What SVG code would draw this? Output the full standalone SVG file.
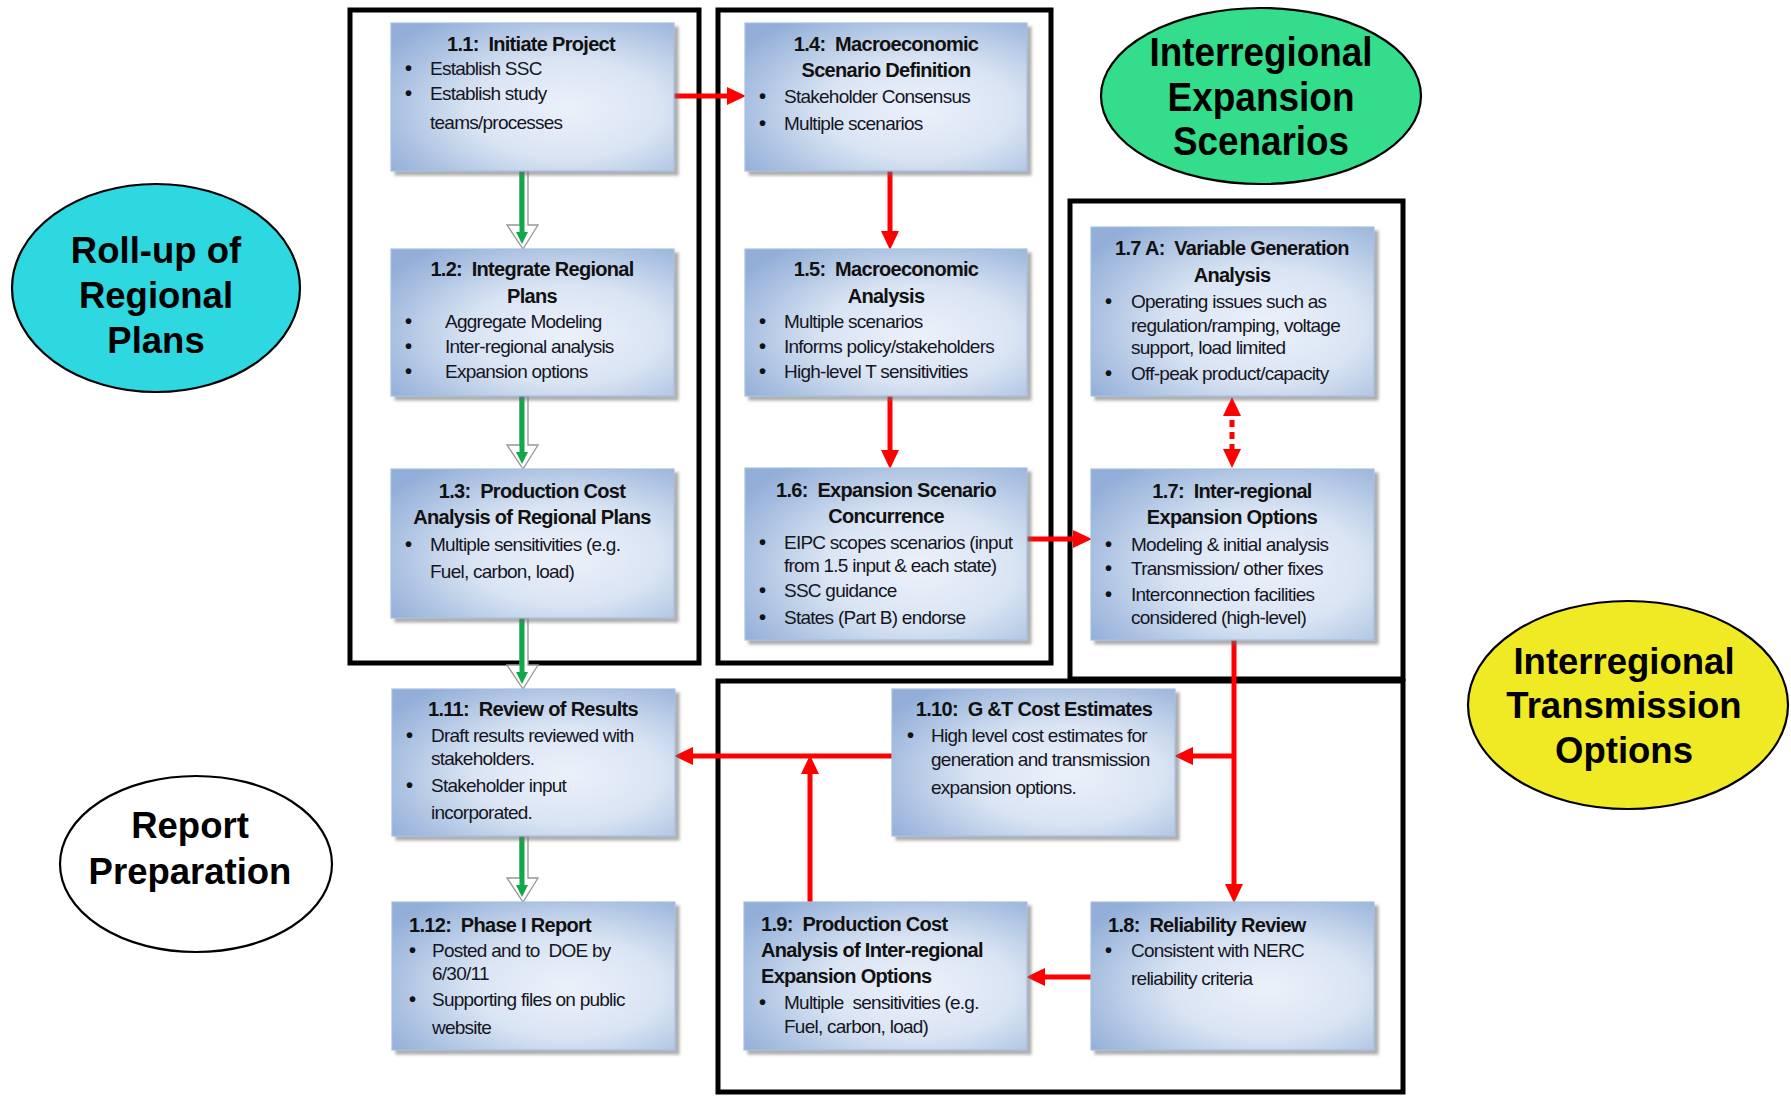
<svg xmlns="http://www.w3.org/2000/svg" width="1791" height="1096" viewBox="0 0 1791 1096">
<defs>
<radialGradient id="bg" cx="0.62" cy="0.58" r="0.75" fx="0.62" fy="0.58">
<stop offset="0" stop-color="#EBF1FA"/>
<stop offset="0.45" stop-color="#D9E4F3"/>
<stop offset="1" stop-color="#92AED8"/>
</radialGradient>
<filter id="sh" x="-5%" y="-5%" width="115%" height="115%">
<feDropShadow dx="4" dy="4" stdDeviation="1.5" flood-color="#6b6b6b" flood-opacity="0.55"/>
</filter>
<marker id="ah" markerUnits="userSpaceOnUse" markerWidth="20" markerHeight="18" viewBox="0 0 20 18" refX="8" refY="9" orient="auto-start-reverse">
<path d="M0,0 L19,9 L0,18 z" fill="#FF0000"/>
</marker>
<style>
.box{fill:url(#bg);stroke:#A7BEE0;stroke-width:1.2;filter:url(#sh)}
.t{font-family:"Liberation Sans",Arial,sans-serif;font-weight:bold;font-size:20px;letter-spacing:-0.7px;fill:#111;white-space:pre}
.b{font-family:"Liberation Sans",Arial,sans-serif;font-size:19px;letter-spacing:-0.75px;fill:#15151f;white-space:pre}
.u{font-size:20px;font-weight:bold;fill:#111;letter-spacing:0}
.c{text-anchor:middle}
.frame{fill:none;stroke:#000;stroke-width:5}
.red{stroke:#FF0000;stroke-width:5;fill:none;marker-end:url(#ah)}
.dash{stroke:#FF0000;stroke-width:5;fill:none;stroke-dasharray:7 5;marker-end:url(#ah);marker-start:url(#ah)}
.gblk{fill:#FFFFFF;stroke:#9C9494;stroke-width:1.3}
.gl{stroke:#12A84A;stroke-width:5;fill:none}
.gh{fill:#12A84A}
.ell{stroke:#000;stroke-width:2.2}
.et{font-family:"Liberation Sans",Arial,sans-serif;font-weight:bold;font-size:36.5px;fill:#000;text-anchor:middle}
</style>
</defs>
<rect width="1791" height="1096" fill="#FFFFFF"/>

<g id="frames">
<rect class="frame" x="350" y="10" width="349" height="653"/>
<rect class="frame" x="718" y="10" width="333" height="653"/>
<rect class="frame" x="1070" y="201" width="333" height="478"/>
<rect class="frame" x="718" y="681" width="685" height="411"/>
</g>

<g id="ellipses">
<g id="ell-rollup">
<ellipse class="ell" cx="156" cy="288" rx="144" ry="104" fill="#2ED8E0"/>
<text class="et" x="156" y="263">Roll-up of</text>
<text class="et" x="156" y="308">Regional</text>
<text class="et" x="156" y="353">Plans</text>
</g>
<g id="ell-report">
<ellipse class="ell" cx="196" cy="864" rx="136" ry="88" fill="#FFFFFF"/>
<text class="et" x="190" y="838">Report</text>
<text class="et" x="190" y="884">Preparation</text>
</g>
<g id="ell-scen">
<ellipse class="ell" cx="1261" cy="96" rx="160" ry="88" fill="#33DD8C"/>
<text class="et" x="1261" y="66" style="font-size:41px" textLength="223" lengthAdjust="spacingAndGlyphs">Interregional</text>
<text class="et" x="1261" y="111" style="font-size:41px" textLength="187" lengthAdjust="spacingAndGlyphs">Expansion</text>
<text class="et" x="1261" y="155" style="font-size:41px" textLength="176" lengthAdjust="spacingAndGlyphs">Scenarios</text>
</g>
<g id="ell-trans">
<ellipse class="ell" cx="1628" cy="705" rx="160" ry="104" fill="#F0EA24"/>
<text class="et" x="1624" y="674">Interregional</text>
<text class="et" x="1624" y="718">Transmission</text>
<text class="et" x="1624" y="763">Options</text>
</g>
</g>

<g id="connectors">
<g id="green-arrows">
<polygon class="gblk" points="520,171 528,171 528,225 538,225 523,249 507,225 520,225"/>
<line class="gl" x1="522" y1="171" x2="522" y2="236"/>
<polygon class="gh" points="516,232 528,232 522,244"/>

<polygon class="gblk" points="520,396 528,396 528,445 538,445 523,469 507,445 520,445"/>
<line class="gl" x1="522" y1="396" x2="522" y2="456"/>
<polygon class="gh" points="516,452 528,452 522,464"/>

<polygon class="gblk" points="520,618 528,618 528,665 538,665 523,689 507,665 520,665"/>
<line class="gl" x1="522" y1="618" x2="522" y2="676"/>
<polygon class="gh" points="516,672 528,672 522,684"/>

<polygon class="gblk" points="520,836 528,836 528,878 538,878 523,902 507,878 520,878"/>
<line class="gl" x1="522" y1="836" x2="522" y2="889"/>
<polygon class="gh" points="516,885 528,885 522,897"/>
</g>
<g id="red-arrows">
<path class="red" d="M674,96 H735"/>
<path class="red" d="M890,171 V239"/>
<path class="red" d="M890,396 V458"/>
<path class="red" d="M1027,539 H1081"/>
<path class="dash" d="M1232,408 V457"/>
<path class="red" d="M1234,640 V892"/>
<path class="red" d="M1234,756 H1185"/>
<path class="red" d="M1091,977 H1037"/>
<path class="red" d="M810,902 V766"/>
<path class="red" d="M892,756 H685"/>
</g>
</g>

<g id="n11">
<rect class="box" x="391" y="23" width="283" height="148"/>
<text class="t c" x="531" y="51">1.1:  Initiate Project</text>
<text class="b" x="405" y="75"><tspan class="u">•</tspan><tspan x="430">Establish SSC</tspan></text>
<text class="b" x="405" y="100"><tspan class="u">•</tspan><tspan x="430">Establish study</tspan></text>
<text class="b" x="430" y="129">teams/processes</text>
</g>

<g id="n12">
<rect class="box" x="391" y="249" width="283" height="147"/>
<text class="t c" x="532" y="276">1.2:  Integrate Regional</text>
<text class="t c" x="532" y="303">Plans</text>
<text class="b" x="405" y="328"><tspan class="u">•</tspan><tspan x="445">Aggregate Modeling</tspan></text>
<text class="b" x="405" y="353"><tspan class="u">•</tspan><tspan x="445">Inter-regional analysis</tspan></text>
<text class="b" x="405" y="378"><tspan class="u">•</tspan><tspan x="445">Expansion options</tspan></text>
</g>

<g id="n13">
<rect class="box" x="391" y="469" width="283" height="149"/>
<text class="t c" x="532" y="498">1.3:  Production Cost</text>
<text class="t c" x="532" y="524">Analysis of Regional Plans</text>
<text class="b" x="405" y="551"><tspan class="u">•</tspan><tspan x="430">Multiple sensitivities (e.g.</tspan></text>
<text class="b" x="430" y="578">Fuel, carbon, load)</text>
</g>

<g id="n111">
<rect class="box" x="392" y="689" width="283" height="147"/>
<text class="t c" x="533" y="716">1.11:  Review of Results</text>
<text class="b" x="406" y="742"><tspan class="u">•</tspan><tspan x="431">Draft results reviewed with</tspan></text>
<text class="b" x="431" y="765">stakeholders.</text>
<text class="b" x="406" y="792"><tspan class="u">•</tspan><tspan x="431">Stakeholder input</tspan></text>
<text class="b" x="431" y="819">incorporated.</text>
</g>

<g id="n112">
<rect class="box" x="392" y="902" width="283" height="148"/>
<text class="t" x="409" y="932">1.12:  Phase I Report</text>
<text class="b" x="409" y="957"><tspan class="u">•</tspan><tspan x="432">Posted and to  DOE by</tspan></text>
<text class="b" x="432" y="980">6/30/11</text>
<text class="b" x="409" y="1006"><tspan class="u">•</tspan><tspan x="432">Supporting files on public</tspan></text>
<text class="b" x="432" y="1034">website</text>
</g>

<g id="n14">
<rect class="box" x="745" y="23" width="282" height="148"/>
<text class="t c" x="886" y="51">1.4:  Macroeconomic</text>
<text class="t c" x="886" y="77">Scenario Definition</text>
<text class="b" x="759" y="103"><tspan class="u">•</tspan><tspan x="784">Stakeholder Consensus</tspan></text>
<text class="b" x="759" y="130"><tspan class="u">•</tspan><tspan x="784">Multiple scenarios</tspan></text>
</g>

<g id="n15">
<rect class="box" x="745" y="249" width="282" height="147"/>
<text class="t c" x="886" y="276">1.5:  Macroeconomic</text>
<text class="t c" x="886" y="303">Analysis</text>
<text class="b" x="759" y="328"><tspan class="u">•</tspan><tspan x="784">Multiple scenarios</tspan></text>
<text class="b" x="759" y="353"><tspan class="u">•</tspan><tspan x="784">Informs policy/stakeholders</tspan></text>
<text class="b" x="759" y="378"><tspan class="u">•</tspan><tspan x="784">High-level T sensitivities</tspan></text>
</g>

<g id="n16">
<rect class="box" x="745" y="468" width="282" height="172"/>
<text class="t c" x="886" y="497">1.6:  Expansion Scenario</text>
<text class="t c" x="886" y="523">Concurrence</text>
<text class="b" x="759" y="549"><tspan class="u">•</tspan><tspan x="784">EIPC scopes scenarios (input</tspan></text>
<text class="b" x="784" y="572">from 1.5 input &amp; each state)</text>
<text class="b" x="759" y="597"><tspan class="u">•</tspan><tspan x="784">SSC guidance</tspan></text>
<text class="b" x="759" y="624"><tspan class="u">•</tspan><tspan x="784">States (Part B) endorse</tspan></text>
</g>

<g id="n17a">
<rect class="box" x="1091" y="227" width="283" height="169"/>
<text class="t c" x="1232" y="255">1.7 A:  Variable Generation</text>
<text class="t c" x="1232" y="282">Analysis</text>
<text class="b" x="1105" y="308"><tspan class="u">•</tspan><tspan x="1131">Operating issues such as</tspan></text>
<text class="b" x="1131" y="332">regulation/ramping, voltage</text>
<text class="b" x="1131" y="354">support, load limited</text>
<text class="b" x="1105" y="380"><tspan class="u">•</tspan><tspan x="1131">Off-peak product/capacity</tspan></text>
</g>

<g id="n17">
<rect class="box" x="1091" y="469" width="283" height="171"/>
<text class="t c" x="1232" y="498">1.7:  Inter-regional</text>
<text class="t c" x="1232" y="524">Expansion Options</text>
<text class="b" x="1105" y="551"><tspan class="u">•</tspan><tspan x="1131">Modeling &amp; initial analysis</tspan></text>
<text class="b" x="1105" y="575"><tspan class="u">•</tspan><tspan x="1131">Transmission/ other fixes</tspan></text>
<text class="b" x="1105" y="601"><tspan class="u">•</tspan><tspan x="1131">Interconnection facilities</tspan></text>
<text class="b" x="1131" y="624">considered (high-level)</text>
</g>

<g id="n110">
<rect class="box" x="892" y="689" width="283" height="147"/>
<text class="t c" x="1034" y="716">1.10:  G &amp;T Cost Estimates</text>
<text class="b" x="907" y="742"><tspan class="u">•</tspan><tspan x="931">High level cost estimates for</tspan></text>
<text class="b" x="931" y="766">generation and transmission</text>
<text class="b" x="931" y="794">expansion options.</text>
</g>

<g id="n19">
<rect class="box" x="744" y="902" width="283" height="148"/>
<text class="t" x="761" y="931">1.9:  Production Cost</text>
<text class="t" x="761" y="957">Analysis of Inter-regional</text>
<text class="t" x="761" y="983">Expansion Options</text>
<text class="b" x="759" y="1009"><tspan class="u">•</tspan><tspan x="784">Multiple  sensitivities (e.g.</tspan></text>
<text class="b" x="784" y="1033">Fuel, carbon, load)</text>
</g>

<g id="n18">
<rect class="box" x="1091" y="902" width="283" height="148"/>
<text class="t" x="1108" y="932">1.8:  Reliability Review</text>
<text class="b" x="1105" y="957"><tspan class="u">•</tspan><tspan x="1131">Consistent with NERC</tspan></text>
<text class="b" x="1131" y="985">reliability criteria</text>
</g>
</svg>
